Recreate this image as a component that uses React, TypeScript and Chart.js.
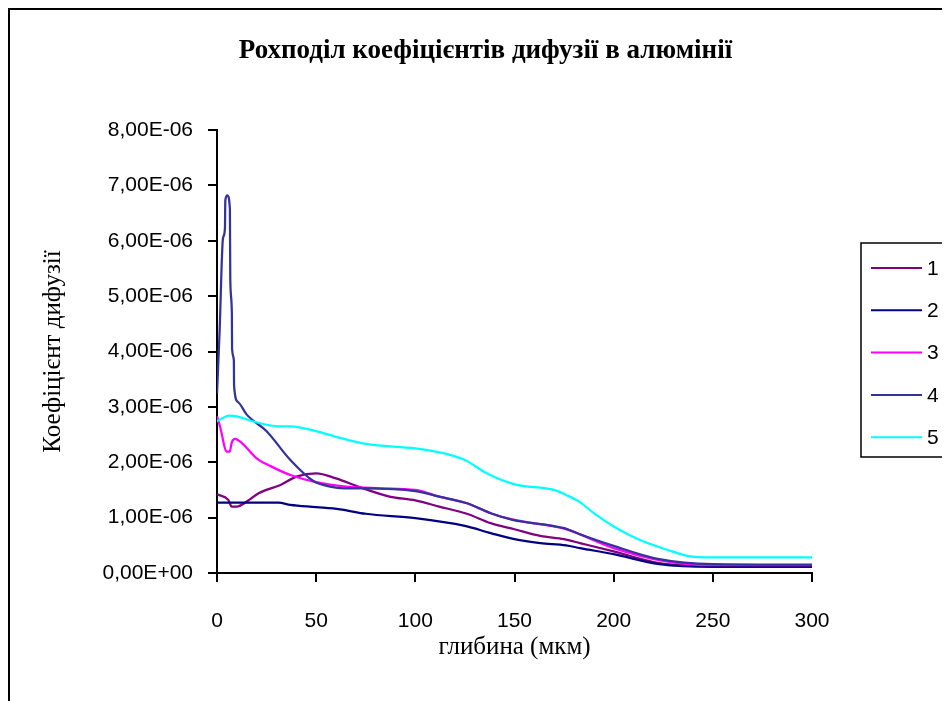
import React, { useEffect, useRef } from "react";
import { Chart, registerables } from "chart.js";

Chart.register(...registerables);

const TITLE = "Рохподіл коефіцієнтів дифузії в алюмінії";
const X_TITLE = "глибина (мкм)";
const Y_TITLE = "Коефіцієнт дифузії";
const SERIES_NAMES = ["1", "2", "3", "4", "5"];
const SERIES_COLORS = ["#800080", "#000080", "#FF00FF", "#333399", "#00FFFF"];

const depth1 = [0, 5.7, 7.4, 10, 15, 21, 32, 40, 50, 60, 72, 87, 100, 112, 126, 138, 150, 163, 175, 183, 200, 223, 250, 300];
const d1 = [1.42e-6, 1.32e-6, 1.2e-6, 1.2e-6, 1.29e-6, 1.44e-6, 1.59e-6, 1.74e-6, 1.8e-6, 1.71e-6, 1.55e-6, 1.38e-6, 1.31e-6, 1.2e-6, 1.07e-6, 0.9e-6, 0.79e-6, 0.67e-6, 0.61e-6, 0.54e-6, 0.39e-6, 0.18e-6, 0.13e-6, 0.13e-6];

const depth2 = [0, 31, 37, 50, 62, 75, 100, 125, 138, 150, 163, 176, 183, 200, 223, 250, 300];
const d2 = [1.27e-6, 1.27e-6, 1.23e-6, 1.19e-6, 1.15e-6, 1.07e-6, 0.99e-6, 0.85e-6, 0.72e-6, 0.61e-6, 0.54e-6, 0.5e-6, 0.45e-6, 0.34e-6, 0.16e-6, 0.11e-6, 0.11e-6];

const depth3 = [0, 1.5, 5, 6.4, 7.4, 9, 12.4, 20, 27, 37, 50, 65, 82, 100, 112, 126, 138, 150, 175, 200, 225, 250, 300];
const d3 = [2.83e-6, 2.65e-6, 2.19e-6, 2.19e-6, 2.35e-6, 2.42e-6, 2.35e-6, 2.07e-6, 1.93e-6, 1.77e-6, 1.64e-6, 1.56e-6, 1.53e-6, 1.5e-6, 1.38e-6, 1.26e-6, 1.08e-6, 0.96e-6, 0.8e-6, 0.45e-6, 0.22e-6, 0.14e-6, 0.14e-6];

const depth4 = [0, 1.3, 3, 4, 4.2, 5.2, 6.5, 6.7, 7.5, 7.6, 8.5, 8.6, 10.5, 15, 25, 37, 48.6, 57, 64, 75, 100, 112, 126, 138, 149, 175, 183, 200, 223, 250, 300];
const d4 = [3.24e-6, 4.35e-6, 6.04e-6, 6.22e-6, 6.73e-6, 6.82e-6, 6.58e-6, 5.29e-6, 4.69e-6, 4.05e-6, 3.84e-6, 3.39e-6, 3.09e-6, 2.86e-6, 2.56e-6, 2.04e-6, 1.66e-6, 1.56e-6, 1.53e-6, 1.53e-6, 1.48e-6, 1.38e-6, 1.26e-6, 1.08e-6, 0.96e-6, 0.81e-6, 0.7e-6, 0.49e-6, 0.25e-6, 0.16e-6, 0.15e-6];

const depth5 = [0, 3, 6, 10, 18, 31, 37, 49, 62, 75, 100, 112, 125, 136, 150, 170, 176, 183, 190, 200, 213, 227, 237, 250, 300];
const d5 = [2.74e-6, 2.8e-6, 2.84e-6, 2.83e-6, 2.74e-6, 2.65e-6, 2.65e-6, 2.57e-6, 2.44e-6, 2.33e-6, 2.25e-6, 2.18e-6, 2.04e-6, 1.8e-6, 1.6e-6, 1.5e-6, 1.41e-6, 1.28e-6, 1.08e-6, 0.84e-6, 0.6e-6, 0.42e-6, 0.31e-6, 0.28e-6, 0.28e-6];

const X_MIN = 0;
const X_MAX = 300;
const X_STEP = 50;
const Y_MIN = 0;
const Y_MAX = 8e-6;
const Y_STEP = 1e-6;

const DEPTHS = [depth1, depth2, depth3, depth4, depth5];
const VALUES = [d1, d2, d3, d4, d5];

function fmtExp(v: number): string {
  const s = Number(v).toExponential(2);
  const [mant, exp] = s.split("e");
  const sign = exp.startsWith("-") ? "-" : "+";
  const digits = exp.replace(/^[+-]/, "").padStart(2, "0");
  return mant.replace(".", ",") + "E" + sign + digits;
}

const SANS = "'Liberation Sans', Arial, sans-serif";
const SERIF = "'Liberation Serif', 'Times New Roman', serif";

const overlayPlugin = {
  id: "overlay",
  afterDraw(chart: any) {
    const ctx = chart.ctx;
    ctx.save();
    ctx.fillStyle = "#000";
    ctx.font = `bold 27px ${SERIF}`;
    ctx.textAlign = "center";
    ctx.textBaseline = "middle";
    ctx.fillText(TITLE, 475.5, 41);

    const bx = 851, by = 233, bw = 87, bh = 214;
    ctx.lineWidth = 1.5;
    ctx.strokeStyle = "#000";
    ctx.strokeRect(bx, by, bw, bh);
    ctx.font = `21px ${SANS}`;
    ctx.textAlign = "left";
    SERIES_NAMES.forEach((name, i) => {
      const y = 258 + i * 42.3;
      ctx.strokeStyle = SERIES_COLORS[i];
      ctx.lineWidth = 2;
      ctx.beginPath();
      ctx.moveTo(861, y);
      ctx.lineTo(912, y);
      ctx.stroke();
      ctx.fillStyle = "#000";
      ctx.fillText(name, 917, y + 1);
    });
    ctx.restore();
  },
};

export default function App() {
  const ref = useRef<HTMLCanvasElement | null>(null);

  useEffect(() => {
    document.documentElement.style.overflow = "hidden";
    document.body.style.overflow = "hidden";
    const canvas = ref.current!;
    const datasets = SERIES_NAMES.map((name, i) => ({
      label: name,
      data: DEPTHS[i].map((x, j) => ({ x, y: VALUES[i][j] })),
      borderColor: SERIES_COLORS[i],
      backgroundColor: SERIES_COLORS[i],
      borderWidth: 2.25,
      pointRadius: 0,
      tension: 0.4,
      cubicInterpolationMode: "monotone" as const,
      fill: false,
      order: 5 - i,
    }));

    const chart = new Chart(canvas, {
      type: "line",
      data: { datasets },
      plugins: [overlayPlugin],
      options: {
        animation: false,
        responsive: false,
        events: [],
        layout: { padding: { top: 120, right: 138, left: 0, bottom: 0 } },
        plugins: {
          legend: { display: false },
          title: { display: false },
          tooltip: { enabled: false },
        },
        scales: {
          x: {
            type: "linear",
            min: X_MIN,
            max: X_MAX,
            ticks: {
              stepSize: X_STEP,
              color: "#000",
              font: { family: SANS, size: 21 },
              padding: 27,
              maxRotation: 0,
            },
            grid: {
              display: true,
              drawOnChartArea: false,
              drawTicks: true,
              tickLength: 9,
              color: "#000",
              lineWidth: 2,
            },
            border: { display: true, color: "#000", width: 2 },
            title: {
              display: true,
              text: X_TITLE,
              color: "#000",
              font: { family: SERIF, size: 25 },
              padding: { top: 0, bottom: 39 },
            },
            afterFit(scale: any) {
              scale.height = 128;
            },
          },
          y: {
            type: "linear",
            min: Y_MIN,
            max: Y_MAX,
            ticks: {
              stepSize: Y_STEP,
              color: "#000",
              font: { family: SANS, size: 21 },
              padding: 15,
              callback: (v: any) => fmtExp(Number(v)),
            },
            grid: {
              display: true,
              drawOnChartArea: false,
              drawTicks: true,
              tickLength: 9,
              color: "#000",
              lineWidth: 2,
            },
            border: { display: true, color: "#000", width: 2 },
            title: {
              display: true,
              text: Y_TITLE,
              color: "#000",
              font: { family: SERIF, size: 25 },
              padding: { top: 28, bottom: 0 },
            },
            afterFit(scale: any) {
              scale.width = 207;
            },
          },
        },
      },
    } as any);
    return () => chart.destroy();
  }, []);

  return (
    <div
      style={{
        borderLeft: "2px solid #000",
        borderTop: "2px solid #000",
        width: 940,
        height: 691,
        background: "#fff",
      }}
    >
      <canvas ref={ref} width={940} height={691} style={{ display: "block" }} />
    </div>
  );
}
